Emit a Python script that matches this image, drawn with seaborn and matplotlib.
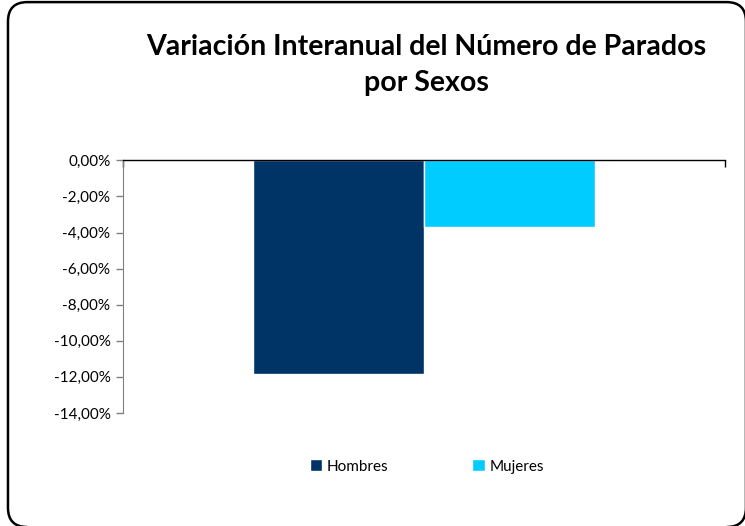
import seaborn as sns
import matplotlib.pyplot as plt
import pandas as pd
from matplotlib.patches import FancyBboxPatch
from matplotlib.ticker import FuncFormatter

# data
sexos = ["Hombres", "Mujeres"]
variacion = [-11.85, -3.7]
colores = ["#003366", "#00CCFF"]
yticks = [0, -2, -4, -6, -8, -10, -12, -14]

df = pd.DataFrame({"grupo": ["Total"] * 2, "Sexo": sexos, "Variacion": variacion})

sns.set_style("white")
plt.rcParams["font.family"] = ["Lato", "DejaVu Sans"]
plt.rcParams["text.color"] = "black"
plt.rcParams["ytick.labelcolor"] = "black"

fig = plt.figure(figsize=(7.45, 5.26), dpi=100)
ax = fig.add_axes([0.165, 0.215, 0.808, 0.48])

sns.barplot(data=df, x="grupo", y="Variacion", hue="Sexo", palette=colores,
            width=0.567, saturation=1, ax=ax, legend=True)

ax.set_xlim(-0.5, 0.5)
ax.set_ylim(-14, 0)
ax.set_yticks(yticks)
ax.yaxis.set_major_formatter(FuncFormatter(lambda v, p: f"{v:.2f}%".replace(".", ",")))
ax.set_xlabel("")
ax.set_ylabel("")

# category axis sits at the top (y = 0)
ax.xaxis.tick_top()
ax.set_xticks([-0.5, 0.5])
ax.set_xticklabels(["", ""])
ax.tick_params(axis="x", direction="in", length=5, color="#000000", width=1)
ax.tick_params(axis="y", direction="out", length=5, color="#808080", width=1,
               labelsize=11, labelcolor="black", pad=4, left=True)
for s in ["bottom", "right"]:
    ax.spines[s].set_visible(False)
ax.spines["left"].set_color("#808080")
ax.spines["top"].set_color("#000000")
ax.spines["top"].set_linewidth(1)

leg = ax.legend(loc="upper center", bbox_to_anchor=(0.505, -0.13), ncol=2,
                frameon=False, fontsize=11, handlelength=0.8, handleheight=0.8,
                handletextpad=0.3, columnspacing=5.5, labelcolor="black")

fig.text(0.572, 0.876, "Variación Interanual del Número de Parados\npor Sexos",
         ha="center", va="center", fontsize=20.5, fontweight="bold",
         color="black", linespacing=1.45)

# rounded chart-area frame (right and bottom edges run off the image)
border = FancyBboxPatch((0.0107, -0.002), 0.9906, 0.998,
                        boxstyle="round,pad=0,rounding_size=0.026",
                        mutation_aspect=7.45 / 5.26,
                        transform=fig.transFigure, fill=False,
                        edgecolor="black", linewidth=1.8, clip_on=False)
fig.patches.append(border)

fig.savefig("out.png", dpi=100)
plt.close(fig)
